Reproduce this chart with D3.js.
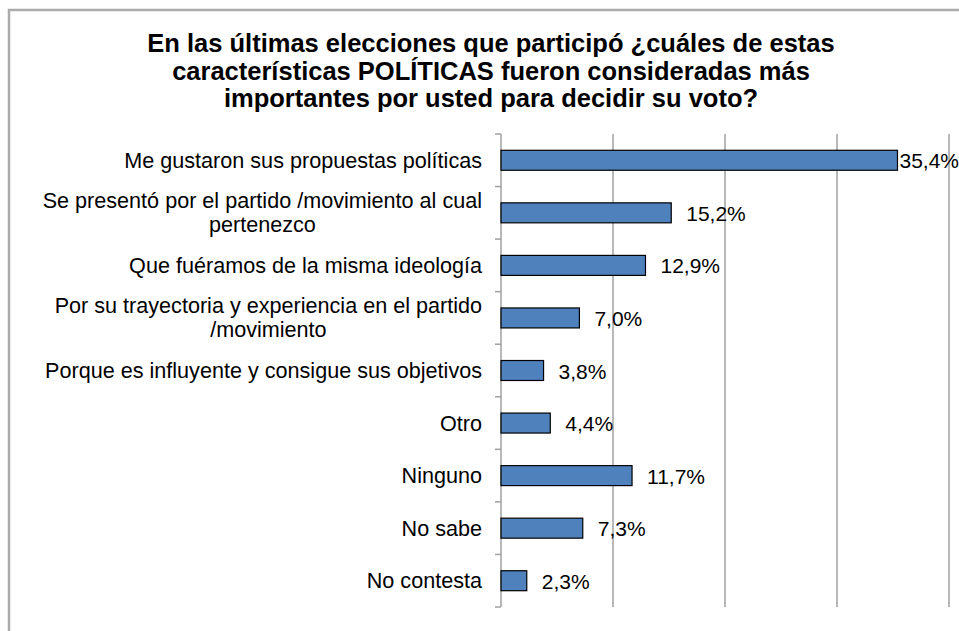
<!DOCTYPE html>
<html><head><meta charset="utf-8">
<script src="https://cdn.jsdelivr.net/npm/d3@7"></script>
<style>body{margin:0;background:#fff}svg{display:block}</style>
</head><body>
<svg id="c" width="959" height="631"></svg>
<script>
const titleLines = ["En las últimas elecciones que participó ¿cuáles de estas",
  "características POLÍTICAS fueron consideradas más",
  "importantes por usted para decidir su voto?"];
const categories = [
  ["Me gustaron sus propuestas políticas"],
  ["Se presentó por el partido /movimiento al cual","pertenezco"],
  ["Que fuéramos de la misma ideología"],
  ["Por su trayectoria y experiencia en el partido","/movimiento"],
  ["Porque es influyente y consigue sus objetivos"],
  ["Otro"],
  ["Ninguno"],
  ["No sabe"],
  ["No contesta"]
];
const values = [35.4, 15.2, 12.9, 7.0, 3.8, 4.4, 11.7, 7.3, 2.3];
const valueLabels = ["35,4%","15,2%","12,9%","7,0%","3,8%","4,4%","11,7%","7,3%","2,3%"];
const gridTicks = [10, 20, 30, 40];

const svg = d3.select("#c");
const W = 959;
const FONT = "'Liberation Sans',Arial,sans-serif";
const FS = 21.6;
// frame
svg.append("path").attr("d","M9,631 V10 H959").attr("fill","none")
  .attr("stroke","#ababab").attr("stroke-width",2.5);

// title
const title = svg.append("text").attr("text-anchor","middle")
  .attr("font-family",FONT)
  .attr("font-weight","bold").attr("font-size",25.5).attr("fill","#000");
titleLines.forEach((t,i)=>title.append("tspan").attr("x",491).attr("y",52+i*27.5).text(t));

const x = d3.scaleLinear().domain([0,40]).range([501,949]);
const y = d3.scaleBand().domain(d3.range(categories.length)).range([134,607]).paddingInner(0.62).paddingOuter(0.31);
const yb = d3.scaleBand().domain(d3.range(categories.length)).range([134,607]);

// gridlines
svg.append("g").selectAll("line").data(gridTicks).join("line")
  .attr("x1",d=>x(d)).attr("x2",d=>x(d)).attr("y1",134).attr("y2",607)
  .attr("stroke","#a0a0a0").attr("stroke-width",1.5);

// axis
const boundaries = d3.range(categories.length+1).map(i=> i<categories.length ? yb(i) : 607);
const ax = svg.append("g");
ax.append("line").attr("x1",x(0)).attr("x2",x(0)).attr("y1",134).attr("y2",607)
  .attr("stroke","#a0a0a0").attr("stroke-width",1.5);
ax.selectAll("line.t").data(boundaries).join("line").attr("class","t")
  .attr("x1",x(0)-6).attr("x2",x(0)).attr("y1",d=>d).attr("y2",d=>d)
  .attr("stroke","#a0a0a0").attr("stroke-width",1.5);

// bars
svg.append("g").selectAll("rect").data(values).join("rect")
  .attr("x",x(0)).attr("y",(d,i)=>y(i)).attr("width",d=>x(d)-x(0)).attr("height",y.bandwidth())
  .attr("fill","#4f81bd").attr("stroke","#000").attr("stroke-width",1.2);

// category labels
const lab = svg.append("g").attr("font-family",FONT)
  .attr("font-size",FS).attr("fill","#000");
categories.forEach((lines,i)=>{
  const cy = yb(i)+yb.bandwidth()/2;
  if(lines.length===1){
    lab.append("text").attr("text-anchor","end").attr("x",482).attr("y",cy+7.5).text(lines[0]);
  } else {
    const t = lab.append("text").attr("text-anchor","middle");
    lines.forEach((l,j)=>t.append("tspan").attr("y",cy-4.5+j*24).text(l));
    const tmp = lab.append("text").text(lines[0]);
    const w = tmp.node().getComputedTextLength(); tmp.remove();
    t.selectAll("tspan").attr("x",482-w/2);
  }
});

// value labels
svg.append("g").attr("font-family",FONT)
  .attr("font-size",21).attr("fill","#000")
  .selectAll("text").data(values).join("text")
  .attr("y",(d,i)=>y(i)+y.bandwidth()/2+8)
  .text((d,i)=>valueLabels[i])
  .each(function(d){
    const w=this.getComputedTextLength();
    const xx = Math.min(x(d)+15, W-1-w);
    d3.select(this).attr("x", Math.max(xx, x(d)+2));
  });
</script>
</body></html>
